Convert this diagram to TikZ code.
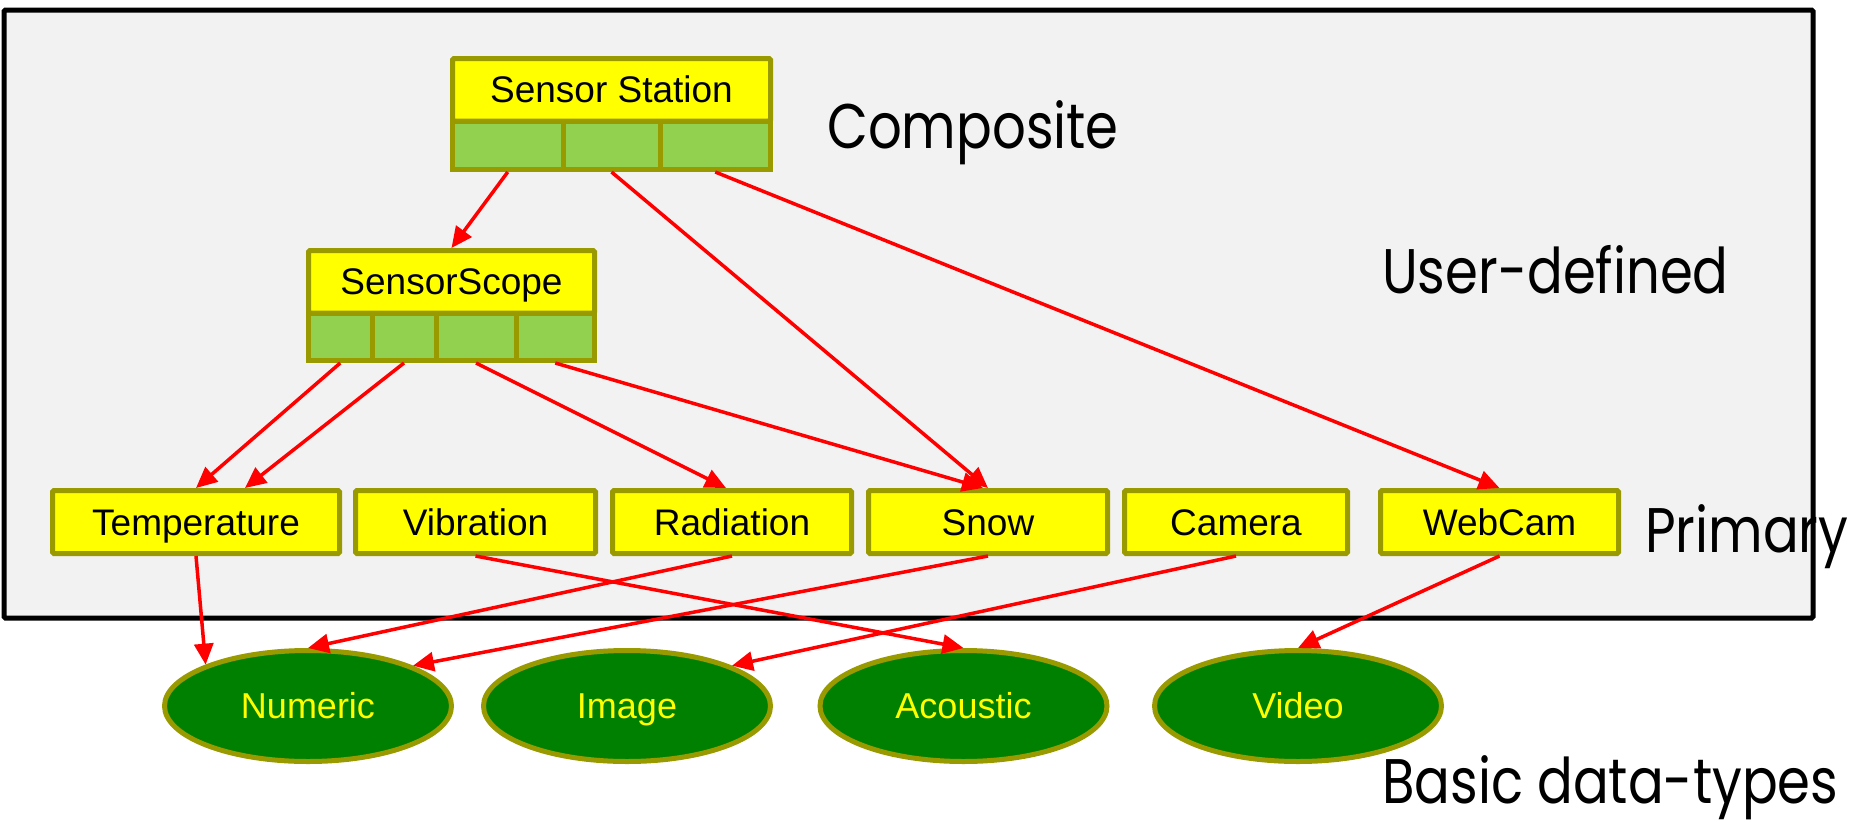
\documentclass[tikz,border=0pt]{standalone}
\usepackage{fontspec}
\setmainfont{Liberation Sans}
\newfontfamily\tierfont[FakeStretch=0.84]{Poppins}
\usetikzlibrary{arrows.meta,shapes.geometric,calc}

\definecolor{olivebd}{HTML}{999900}
\definecolor{cellgreen}{HTML}{92D050}
\definecolor{dtgreen}{HTML}{008000}
\definecolor{panel}{HTML}{F2F2F2}
\definecolor{boxyellow}{HTML}{FFFF00}

\begin{document}
\begin{tikzpicture}[x=1pt,y=-1pt,
  box/.style={draw=olivebd, line width=5pt, fill=boxyellow, rounded corners=1.5pt,
    inner sep=0pt, text height=26.4pt, text depth=0pt,
    font=\fontsize{37}{40}\selectfont},
  cell/.style={draw=olivebd, line width=5pt, fill=cellgreen, inner sep=0pt},
  dtype/.style={ellipse, draw=olivebd, line width=5pt, fill=dtgreen, text=boxyellow,
    minimum width=287pt, minimum height=111pt, inner sep=0pt,
    text height=25.8pt, text depth=0pt, font=\fontsize{36}{40}\selectfont},
  link/.style={draw=red, line width=3.5pt, -{Triangle[length=21pt,width=19pt]}},
  tier/.style={font=\tierfont\fontsize{63}{70}\selectfont, anchor=base west, inner sep=0pt}
]
\useasboundingbox (0,0) rectangle (1864,822);

% panel holding the user-defined types
\draw[line width=5pt, fill=panel, rounded corners=1.5pt] (4,10) rectangle (1813,618);

% composite type: Sensor Station
\node[box, minimum width=318pt, minimum height=62.5pt] (station) at (611.5,89.75) {Sensor Station};
\node[cell, minimum width=110.5pt, minimum height=48.5pt] (st1) at (507.75,145.25) {};
\node[cell, minimum width=97pt, minimum height=48.5pt] (st2) at (611.5,145.25) {};
\node[cell, minimum width=110.5pt, minimum height=48.5pt] (st3) at (715.25,145.25) {};

% composite type: SensorScope
\node[box, minimum width=286pt, minimum height=62.5pt] (scope) at (451.5,281.75) {SensorScope};
\node[cell, minimum width=63.5pt, minimum height=47.5pt] (sc1) at (340.25,336.75) {};
\node[cell, minimum width=64pt, minimum height=47.5pt] (sc2) at (404,336.75) {};
\node[cell, minimum width=80pt, minimum height=47.5pt] (sc3) at (476,336.75) {};
\node[cell, minimum width=78.5pt, minimum height=47.5pt] (sc4) at (555.25,336.75) {};

% primary types
\node[box, minimum width=287pt, minimum height=63pt] (temp) at (196,522) {Temperature};
\node[box, minimum width=240pt, minimum height=63pt] (vib) at (475.5,522) {Vibration};
\node[box, minimum width=239pt, minimum height=63pt] (rad) at (732,522) {Radiation};
\node[box, minimum width=239pt, minimum height=63pt] (snow) at (988,522) {Snow};
\node[box, minimum width=223pt, minimum height=63pt] (cam) at (1236,522) {Camera};
\node[box, minimum width=238pt, minimum height=63pt] (web) at (1499.5,522) {WebCam};

% basic data-types
\node[dtype] (numeric) at (308,706) {Numeric};
\node[dtype] (image) at (627,706) {Image};
\node[dtype] (acoustic) at (963.5,706) {Acoustic};
\node[dtype] (video) at (1298,706) {Video};

% tier captions
\node[tier] (capcomp) at (827,148) {Composite};
\node[tier] (capuser) at (1382,293) {User-defined};
\node[tier] (capprim) at (1645,552) {Primary};
\node[tier] (capbasic) at (1382,803) {Basic data-types};

% composition links
\draw[link] (st1.south) -- (scope.north);
\draw[link] (st2.south) -- (snow.north);
\draw[link] (st3.south) -- (web.north);
\draw[link] (sc1.south) -- (temp.north);
\draw[link] (sc2.south) -- ($(temp.north)+(49,0)$);
\draw[link] (sc3.south) -- ($(rad.north)+(-6,0)$);
\draw[link] (sc4.south) -- ($(snow.north)+(-5,0)$);

% primary to basic data-type links
\draw[link] (temp.south) -- (numeric.158);
\draw[link] (rad.south) -- (numeric.north);
\draw[link] (snow.south) -- (numeric.21);
\draw[link] (vib.south) -- (acoustic.north);
\draw[link] (cam.south) -- (image.21);
\draw[link] (web.south) -- (video.north);
\end{tikzpicture}
\end{document}
